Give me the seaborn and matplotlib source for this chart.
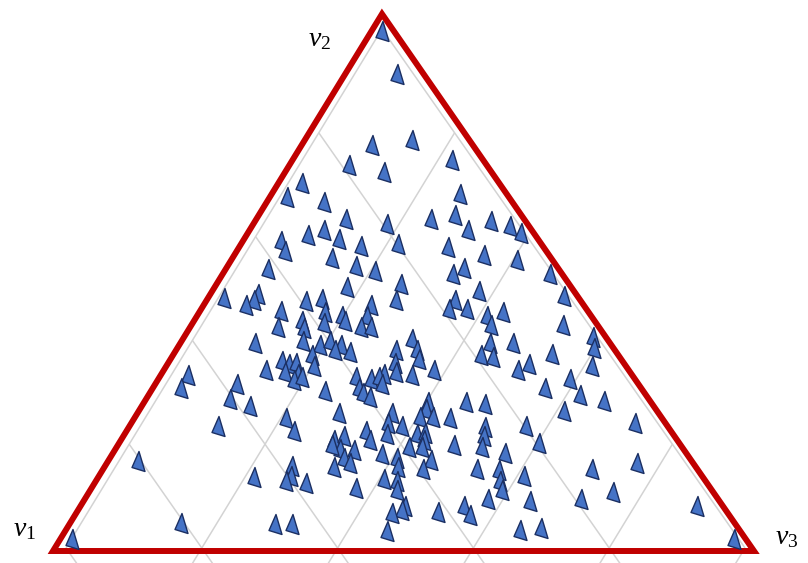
import numpy as np
import pandas as pd
import matplotlib
matplotlib.use("Agg")
import matplotlib.pyplot as plt
import seaborn as sns
from matplotlib.path import Path
from matplotlib.markers import MarkerStyle
from matplotlib.patches import Polygon

# Composition of each sample, in percent (v1 share = 100 - v2 - v3)
v2_share = [
    99.7, 91.4, 77.6, 78.6, 74.8, 73.8, 72.4, 70.3, 68.2, 67.7,
    66.7, 63.4, 62.4, 63.4, 64.1, 61.3, 63.0, 62.0, 60.6, 60.3,
    61.3, 59.6, 59.2, 57.2, 58.2, 58.5, 57.9, 56.5, 55.4, 55.8,
    54.4, 53.4, 53.7, 52.7, 54.0, 52.7, 50.9, 50.2, 49.6, 48.5,
    48.2, 48.9, 47.8, 46.8, 47.6, 48.0, 47.8, 46.8, 47.8, 46.1,
    46.1, 45.7, 45.4, 44.7, 44.7, 45.4, 44.7, 42.6, 43.7, 42.3,
    43.3, 43.7, 42.6, 42.6, 43.0, 43.0, 40.6, 39.5, 39.9, 39.2,
    39.9, 39.2, 40.2, 39.5, 39.5, 38.6, 37.1, 38.1, 37.8, 38.1,
    38.1, 36.4, 37.1, 36.8, 37.4, 36.1, 35.4, 35.7, 34.3, 34.0,
    33.6, 35.0, 35.7, 33.6, 34.0, 33.3, 34.3, 34.3, 35.4, 35.0,
    33.3, 30.9, 31.6, 32.3, 33.0, 33.0, 32.6, 33.0, 31.6, 30.9,
    29.8, 29.1, 30.2, 30.9, 32.6, 29.5, 28.4, 28.8, 27.4, 28.1,
    27.8, 28.1, 26.7, 26.0, 26.0, 25.3, 25.3, 25.0, 26.4, 25.0,
    22.6, 23.6, 24.0, 23.6, 23.6, 24.0, 23.3, 21.5, 20.8, 21.5,
    22.6, 20.8, 21.9, 21.9, 22.2, 20.8, 19.1, 19.8, 18.8, 18.1,
    19.5, 19.5, 19.8, 19.5, 18.4, 20.2, 16.7, 17.4, 16.3, 17.4,
    17.0, 15.7, 15.7, 15.3, 15.3, 15.0, 15.8, 13.9, 13.6, 12.9,
    12.5, 13.2, 12.9, 11.2, 11.5, 12.9, 13.9, 15.3, 16.3, 11.2,
    9.4, 9.1, 10.8, 9.4, 8.0, 7.4, 6.7, 7.0, 8.0, 6.3,
    8.0, 4.9, 4.6, 4.6, 3.2, 3.5, 3.9, 1.8, 1.8,
]
v3_share = [
    0.2, 6.2, 9.0, 14.4, 22.1, 7.3, 13.2, 2.0, 26.3, 1.1,
    6.9, 11.7, 18.2, 24.3, 27.4, 30.7, 33.3, 36.6, 38.8, 7.6,
    9.4, 12.4, 4.1, 5.6, 16.3, 21.7, 29.3, 35.2, 40.6, 13.2,
    17.4, 20.6, 4.8, 32.4, 33.5, 46.7, 25.6, 18.0, 37.8, 50.7,
    0.9, 5.5, 5.5, 4.7, 13.2, 15.4, 26.3, 23.2, 35.1, 34.9,
    37.6, 10.4, 17.0, 19.9, 23.5, 43.2, 41.2, 11.4, 14.4, 15.4,
    17.8, 20.8, 23.6, 25.1, 42.6, 53.2, 58.7, 9.5, 16.3, 19.1,
    20.3, 22.2, 32.3, 44.0, 47.5, 59.8, 19.0, 21.9, 24.3, 30.8,
    33.9, 35.0, 43.8, 45.7, 54.1, 15.0, 16.3, 17.3, 13.5, 16.5,
    18.5, 20.3, 31.8, 31.2, 32.8, 35.5, 38.2, 50.6, 51.7, 61.2,
    2.5, 2.6, 10.5, 18.6, 19.4, 27.3, 29.8, 30.8, 31.8, 28.7,
    29.9, 31.2, 24.1, 56.1, 59.0, 62.0, 66.0, 10.8, 14.4, 45.9,
    48.7, 40.2, 40.6, 28.1, 35.9, 40.4, 42.3, 44.9, 61.0, 20.8,
    23.1, 11.4, 36.3, 38.5, 56.7, 72.7, 50.8, 51.6, 29.8, 31.0,
    33.7, 35.1, 37.1, 41.5, 42.6, 43.0, 31.5, 30.0, 33.6, 38.1,
    41.4, 43.3, 48.0, 52.2, 56.1, 60.3, 2.9, 32.9, 34.3, 40.7,
    45.8, 32.1, 41.6, 45.4, 53.4, 56.8, 26.0, 26.7, 21.4, 26.4,
    29.5, 40.7, 42.8, 43.6, 37.3, 57.9, 61.0, 70.3, 76.5, 59.0,
    57.8, 64.1, 75.5, 71.4, 46.2, 46.1, 44.9, 51.6, 54.9, 56.5,
    89.2, 14.6, 28.6, 31.2, 45.8, 65.3, 68.2, 97.6, 0.0,
]
vertex_labels = [r"$v_1$", r"$v_2$", r"$v_3$"]
grid_fractions = [0.2, 0.4, 0.6, 0.8, 1.0]

sns.set_theme(style="white")
plt.rcParams["mathtext.fontset"] = "custom"
plt.rcParams["mathtext.rm"] = "Liberation Serif"
plt.rcParams["mathtext.it"] = "Liberation Serif:italic"
plt.rcParams["font.family"] = ["Liberation Serif", "DejaVu Serif"]

W, H = 808, 563
fig = plt.figure(figsize=(W / 100, H / 100), dpi=100)
ax = fig.add_axes([0, 0, 1, 1])
ax.set_xlim(0, W)
ax.set_ylim(H, 0)
ax.axis("off")

# Corners of the ternary diagram (canvas units)
V1 = np.array([66.0, 548.0])
V2 = np.array([382.0, 29.0])
V3 = np.array([745.0, 548.0])
# Outline drawn around the diagram
frame = np.array([[53.0, 551.0], [382.0, 14.0], [754.0, 551.0]])

grid_kw = dict(color="#d3d3d3", lw=1.1, zorder=1, solid_capstyle="butt")
y_end = H + 15


def ray(start, direction):
    t = (y_end - start[1]) / direction[1]
    end = start + t * direction
    ax.plot([start[0], end[0]], [start[1], end[1]], **grid_kw)


# Diagram edges
ax.plot([V2[0], V1[0]], [V2[1], V1[1]], **grid_kw)
ax.plot([V2[0], V3[0]], [V2[1], V3[1]], **grid_kw)
# Grid lines parallel to the two slanted edges
for f in grid_fractions:
    ray(V2 + f * (V1 - V2), V3 - V2)
    ray(V2 + f * (V3 - V2), V1 - V2)

# Project compositions into the diagram
v2 = np.array(v2_share) / 100.0
v3 = np.array(v3_share) / 100.0
v1 = 1.0 - v2 - v3
pts = np.outer(v1, V1) + np.outer(v2, V2) + np.outer(v3, V3)
df = pd.DataFrame({"x": pts[:, 0], "y": pts[:, 1]})

tri_path = Path(
    [(-6.5, -6.0), (0.5, 10.0), (6.5, -10.0), (-6.5, -6.0)],
    [Path.MOVETO, Path.LINETO, Path.LINETO, Path.CLOSEPOLY],
)
marker = MarkerStyle(tri_path)

ax.add_patch(Polygon(frame, closed=True, fill=False, edgecolor="#C00000",
                     lw=4.3, joinstyle="miter", zorder=3))

sns.scatterplot(data=df, x="x", y="y", ax=ax, marker=marker, s=207,
                color="#4573C6", edgecolor="#1B2F62", linewidth=1.0,
                zorder=4, legend=False)
ax.set_xlabel("")
ax.set_ylabel("")

label_pos = [(25, 530), (320, 40), (787, 538)]
for (lx, ly), lab in zip(label_pos, vertex_labels):
    ax.text(lx, ly, lab, fontsize=20, ha="center", va="center", color="black")

fig.savefig("out.png", dpi=100)
